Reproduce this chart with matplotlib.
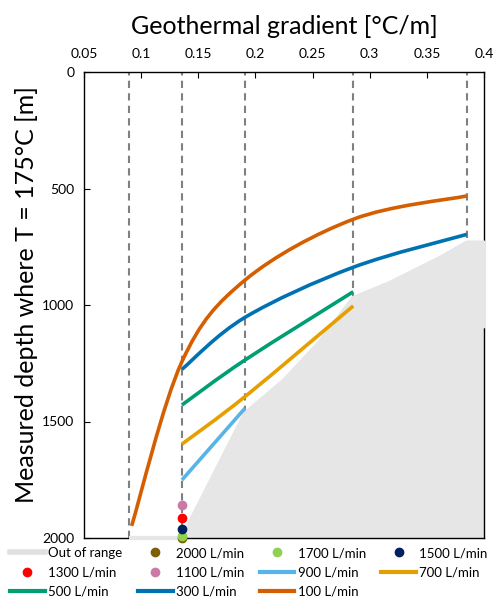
import matplotlib
matplotlib.use("Agg")
import matplotlib.pyplot as plt
import numpy as np
from matplotlib.lines import Line2D
from matplotlib.patches import PathPatch
from matplotlib.path import Path

plt.rcParams["font.family"] = ["Lato", "DejaVu Sans"]

# gradients at which the simulated cases were evaluated [degC/m]
case_gradients = [0.0894, 0.1357, 0.1909, 0.2856, 0.3849]

# depth (m) at which 175 degC is reached, per flow rate
flow_100_x = [0.0917, 0.1357, 0.1909, 0.2856, 0.3849]
flow_100_y = [1948, 1243, 893, 632, 532]
flow_300_x = [0.1357, 0.1909, 0.2856, 0.3849]
flow_300_y = [1276, 1053, 838, 697]
flow_500_x = [0.1357, 0.1909, 0.2856]
flow_500_y = [1429, 1236, 943]
flow_700_x = [0.1357, 0.1909, 0.2856]
flow_700_y = [1597, 1393, 1004]
flow_900_x = [0.1357, 0.1909]
flow_900_y = [1751, 1443]

# single-point cases
point_x = 0.1357
point_rates = ["2000 L/min", "1700 L/min", "1500 L/min", "1300 L/min", "1100 L/min"]
point_depths = [1998, 1990, 1962, 1915, 1858]
point_colors = ["#7F6000", "#92D050", "#002060", "#FF0000", "#CC79A7"]

# boundary of the region that is out of range
range_x = [0.0894, 0.1357, 0.1909, 0.2247, 0.2560, 0.2856, 0.3178, 0.3615, 0.3849, 0.4, 0.4]
range_y = [2000, 2000, 1465, 1325, 1160, 970, 905, 798, 732, 732, 1100]

line_rates = ["900 L/min", "700 L/min", "500 L/min", "300 L/min", "100 L/min"]
line_series = [
    (flow_900_x, flow_900_y, "#56B4E9"),
    (flow_700_x, flow_700_y, "#E69F00"),
    (flow_500_x, flow_500_y, "#009E73"),
    (flow_300_x, flow_300_y, "#0072B2"),
    (flow_100_x, flow_100_y, "#D55E00"),
]

GREY = "#E6E6E6"


def smooth_path(xs, ys):
    """Bezier path through the points, like a spreadsheet 'smoothed line'."""
    pts = np.column_stack([xs, ys]).astype(float)
    n = len(pts)
    if n < 3:
        return Path(pts, [Path.MOVETO] + [Path.LINETO] * (n - 1))
    verts = [pts[0]]
    codes = [Path.MOVETO]
    for i in range(n - 1):
        p0 = pts[max(i - 1, 0)]
        p1 = pts[i]
        p2 = pts[i + 1]
        p3 = pts[min(i + 2, n - 1)]
        verts += [p1 + (p2 - p0) / 6, p2 - (p3 - p1) / 6, p2]
        codes += [Path.CURVE4] * 3
    return Path(verts, codes)


fig = plt.figure(figsize=(4.95, 6.0), dpi=100)
ax = fig.add_axes([84 / 495, 1 - 538 / 600, 400 / 495, 466 / 600])

# dashed guides at the evaluated gradients
for g in case_gradients:
    ax.axvline(g, color="#808080", lw=1.5, dashes=(3.5, 2.5), zorder=1)

# out-of-range area
ax.fill_between(range_x[:-1], range_y[:-1], 2000, color=GREY, lw=0, zorder=2)
ax.plot(range_x, range_y, color=GREY, lw=3, zorder=4, clip_on=False,
        solid_capstyle="butt")

for (xs, ys, color) in line_series:
    ax.add_patch(PathPatch(smooth_path(xs, ys), fill=False, edgecolor=color,
                           lw=2.6, capstyle="butt", zorder=5))

for depth, color in zip(point_depths, point_colors):
    ax.plot([point_x], [depth], "o", color=color, ms=6, zorder=6, clip_on=False)

ax.set_xlim(0.05, 0.4)
ax.set_ylim(2000, 0)
ax.set_xticks(np.arange(0.05, 0.401, 0.05))
ax.set_xticklabels(["0.05", "0.1", "0.15", "0.2", "0.25", "0.3", "0.35", "0.4"])
ax.set_yticks([0, 500, 1000, 1500, 2000])
ax.xaxis.tick_top()
ax.xaxis.set_label_position("top")
ax.tick_params(axis="both", direction="in", length=4, width=0.8,
               labelsize=10, colors="black")
ax.tick_params(axis="x", pad=9)
ax.tick_params(axis="y", pad=7)
for spine in ax.spines.values():
    spine.set_linewidth(1.0)
    spine.set_zorder(3)

ax.set_xlabel("Geothermal gradient [°C/m]", fontsize=18, labelpad=10)
ax.set_ylabel("Measured depth where T = 175°C [m]", fontsize=18, labelpad=3,
              y=0.522)

# legend, filled column by column so it reads row by row
handles = {
    "Out of range": Line2D([], [], color="#E0E0E0", lw=4),
}
for rate, color in zip(point_rates, point_colors):
    handles[rate] = Line2D([], [], ls="none", marker="o", ms=6, color=color)
for rate, (_, _, color) in zip(line_rates, line_series):
    handles[rate] = Line2D([], [], color=color, lw=3)

order = ["Out of range", "1300 L/min", "500 L/min",
         "2000 L/min", "1100 L/min", "300 L/min",
         "1700 L/min", "900 L/min", "100 L/min",
         "1500 L/min", "700 L/min"]
fig.legend([handles[k] for k in order], order, ncol=4,
           loc="upper left", bbox_to_anchor=(10 / 495, 1 - 547 / 600),
           frameon=False, fontsize=9.5, handlelength=2.65, handletextpad=0.25,
           columnspacing=1.15, labelspacing=0.55, borderpad=0, borderaxespad=0)

fig.savefig("out.png", dpi=100)
